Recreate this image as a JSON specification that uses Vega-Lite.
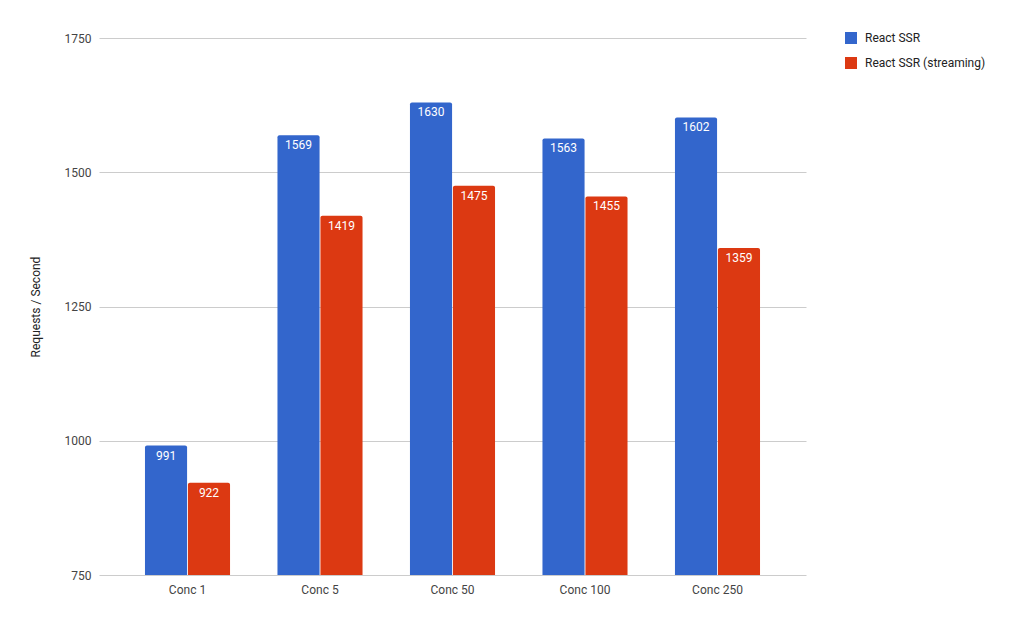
{
  "$schema": "https://vega.github.io/schema/vega-lite/v6.json",
  "width": 707,
  "height": 537,
  "autosize": {"type": "none"},
  "padding": {"left": 99, "top": 38, "right": 210, "bottom": 53},
  "background": "white",
  "config": {
    "view": {"stroke": null},
    "font": "Roboto",
    "axis": {"labelFont": "Roboto", "titleFont": "Roboto"},
    "legend": {"labelFont": "Roboto"}
  },
  "data": {
    "values": [
      {"conc": "Conc 1", "series": "React SSR", "rps": 991},
      {"conc": "Conc 1", "series": "React SSR (streaming)", "rps": 922},
      {"conc": "Conc 5", "series": "React SSR", "rps": 1569},
      {"conc": "Conc 5", "series": "React SSR (streaming)", "rps": 1419},
      {"conc": "Conc 50", "series": "React SSR", "rps": 1630},
      {"conc": "Conc 50", "series": "React SSR (streaming)", "rps": 1475},
      {"conc": "Conc 100", "series": "React SSR", "rps": 1563},
      {"conc": "Conc 100", "series": "React SSR (streaming)", "rps": 1455},
      {"conc": "Conc 250", "series": "React SSR", "rps": 1602},
      {"conc": "Conc 250", "series": "React SSR (streaming)", "rps": 1359}
    ]
  },
  "encoding": {
    "x": {
      "field": "conc",
      "type": "nominal",
      "sort": null,
      "scale": {"paddingInner": 0.358, "paddingOuter": 0.347},
      "axis": {
        "title": null,
        "labelAngle": 0,
        "labelFontSize": 12,
        "labelColor": "#444444",
        "labelPadding": 9,
        "domain": false,
        "ticks": false,
        "grid": false
      }
    },
    "xOffset": {"field": "series", "type": "nominal", "scale": {"paddingInner": 0.02}},
    "y": {
      "field": "rps",
      "type": "quantitative",
      "scale": {"domain": [750, 1750], "zero": false, "clamp": true},
      "axis": {
        "title": "Requests / Second",
        "titleFontSize": 12,
        "titleFontWeight": "normal",
        "titleColor": "#222222",
        "titlePadding": 22,
        "format": "d",
        "values": [750, 1000, 1250, 1500, 1750],
        "labelFontSize": 12,
        "labelColor": "#444444",
        "labelPadding": 8,
        "domain": false,
        "ticks": false,
        "gridColor": "#cccccc",
        "gridWidth": 1
      }
    }
  },
  "layer": [
    {
      "mark": {"type": "bar", "cornerRadiusTopLeft": 2, "cornerRadiusTopRight": 2},
      "encoding": {
        "y2": {"datum": 750},
        "color": {
          "field": "series",
          "type": "nominal",
          "scale": {"range": ["#3366cc", "#dc3912"]},
          "legend": {
            "title": null,
            "orient": "none",
            "legendX": 746,
            "legendY": -6,
            "symbolType": "square",
            "symbolSize": 144,
            "symbolStrokeWidth": 0,
            "labelFontSize": 12,
            "labelColor": "#222222",
            "labelOffset": 8,
            "rowPadding": 13
          }
        }
      }
    },
    {
      "mark": {"type": "text", "baseline": "top", "dy": 5, "color": "white", "fontSize": 12},
      "encoding": {"text": {"field": "rps", "type": "quantitative"}}
    }
  ]
}
